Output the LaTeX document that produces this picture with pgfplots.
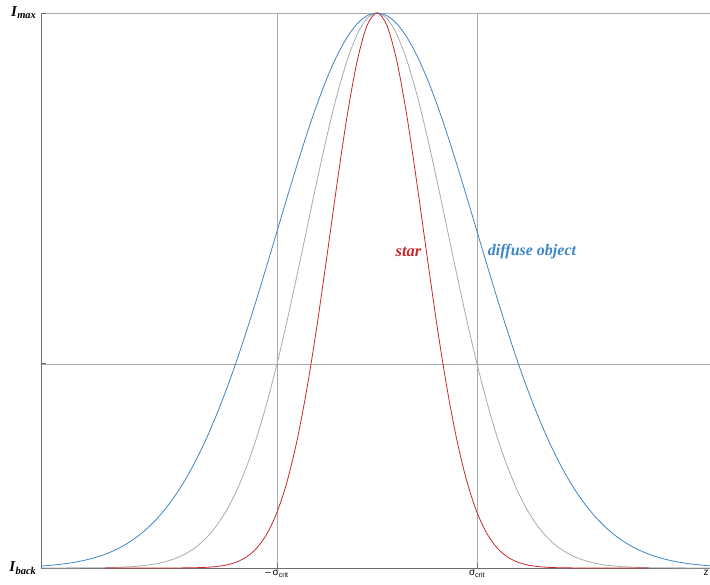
\documentclass[border=0pt]{standalone}
\usepackage{fontspec}
\setmainfont{Liberation Serif}
\newfontfamily\sansf{Liberation Sans}
\usepackage{pgfplots}
\pgfplotsset{compat=1.18}
\definecolor{cblue}{RGB}{61,133,198}
\definecolor{cred}{RGB}{200,40,45}
\definecolor{cgray}{RGB}{170,170,170}
\definecolor{caxis}{RGB}{110,110,110}
\begin{document}
\begin{tikzpicture}
\begin{axis}[
  scale only axis, width=669pt, height=555pt,
  xmin=-3.36, xmax=3.33, ymin=0, ymax=1,
  axis x line=bottom, axis y line=left,
  axis line style={caxis, line width=0.9pt, -},
  xtick={-1,1},
  xticklabels={{\textendash\,σ\textsubscript{crit}}, {σ\textsubscript{crit}}},
  extra x ticks={3.33},
  extra x tick labels={{z}},
  extra x tick style={grid=none, major tick length=0pt, xticklabel style={xshift=-4pt}},
  ytick={0,0.36788,1},
  yticklabels={{\textbf{\textit{I}}\textsubscript{\textbf{\textit{back}}}}, {}, {\textbf{\textit{I}}\textsubscript{\textbf{\textit{max}}}}},
  xmajorgrids, ymajorgrids,
  grid style={cgray, line width=0.6pt},
  tick align=inside,
  major tick length=5pt,
  tick style={caxis, line width=0.8pt},
  xticklabel style={font=\sansf\fontsize{10}{11}\selectfont, yshift=1pt},
  yticklabel style={font=\fontsize{15}{17}\selectfont, xshift=-1pt},
  clip=false,
]
\addplot[cgray, line width=0.8pt, smooth] coordinates {
(-3.36,0) (-2.8,0.00039) (-2.7,0.00068) (-2.6,0.00116) (-2.5,0.00193) (-2.4,0.00315) (-2.3,0.00504) (-2.2,0.00791) (-2.1,0.01216)
(-2.0,0.01832) (-1.9,0.02705) (-1.8,0.03916) (-1.7,0.05558) (-1.6,0.07730) (-1.5,0.10540) (-1.4,0.14086) (-1.3,0.18452) (-1.2,0.23693) (-1.1,0.29820)
(-1.0,0.36788) (-0.9,0.44486) (-0.8,0.52729) (-0.7,0.61263) (-0.6,0.69768) (-0.5,0.77880) (-0.4,0.85214) (-0.3,0.91393) (-0.2,0.96079) (-0.1,0.99005)
(0,1)
(0.1,0.99005) (0.2,0.96079) (0.3,0.91393) (0.4,0.85214) (0.5,0.77880) (0.6,0.69768) (0.7,0.61263) (0.8,0.52729) (0.9,0.44486) (1.0,0.36788)
(1.1,0.29820) (1.2,0.23693) (1.3,0.18452) (1.4,0.14086) (1.5,0.10540) (1.6,0.07730) (1.7,0.05558) (1.8,0.03916) (1.9,0.02705) (2.0,0.01832)
(2.1,0.01216) (2.2,0.00791) (2.3,0.00504) (2.4,0.00315) (2.5,0.00193) (2.6,0.00116) (2.7,0.00068) (2.8,0.00039) (3.33,0)
};
\addplot[cblue, line width=0.8pt, smooth] coordinates {
(-3.36,0.00354) (-3.3,0.00432) (-3.2,0.00598) (-3.1,0.00819) (-3.0,0.01111) (-2.9,0.01492) (-2.8,0.01984) (-2.7,0.02612) (-2.6,0.03405) (-2.5,0.04394)
(-2.4,0.05613) (-2.3,0.07101) (-2.2,0.08892) (-2.1,0.11025) (-2.0,0.13534) (-1.9,0.16447) (-1.8,0.19790) (-1.7,0.23575) (-1.6,0.27804) (-1.5,0.32465)
(-1.4,0.37531) (-1.3,0.42956) (-1.2,0.48675) (-1.1,0.54607) (-1.0,0.60653) (-0.9,0.66698) (-0.8,0.72615) (-0.7,0.78270) (-0.6,0.83527) (-0.5,0.88250)
(-0.4,0.92312) (-0.3,0.95600) (-0.2,0.98020) (-0.1,0.99501) (0,1)
(0.1,0.99501) (0.2,0.98020) (0.3,0.95600) (0.4,0.92312) (0.5,0.88250) (0.6,0.83527) (0.7,0.78270) (0.8,0.72615) (0.9,0.66698) (1.0,0.60653)
(1.1,0.54607) (1.2,0.48675) (1.3,0.42956) (1.4,0.37531) (1.5,0.32465) (1.6,0.27804) (1.7,0.23575) (1.8,0.19790) (1.9,0.16447) (2.0,0.13534)
(2.1,0.11025) (2.2,0.08892) (2.3,0.07101) (2.4,0.05613) (2.5,0.04394) (2.6,0.03405) (2.7,0.02612) (2.8,0.01984) (2.9,0.01492) (3.0,0.01111)
(3.1,0.00819) (3.2,0.00598) (3.33,0.00391)
};
\addplot[cred, line width=0.8pt, smooth] coordinates {
(-2.72,0) (-2.1,0) (-2.0,0.0001) (-1.9,0.00025) (-1.8,0.00058) (-1.7,0.00130) (-1.6,0.00277) (-1.5,0.00566) (-1.4,0.01102) (-1.3,0.02050) (-1.2,0.03644)
(-1.1,0.06185) (-1.0,0.10026) (-0.9,0.15522) (-0.8,0.22947) (-0.7,0.32400) (-0.6,0.43692) (-0.5,0.56270) (-0.4,0.69205) (-0.3,0.81302) (-0.2,0.91211)
(-0.1,0.97726) (0,1)
(0.1,0.97726) (0.2,0.91211) (0.3,0.81302) (0.4,0.69205) (0.5,0.56270) (0.6,0.43692) (0.7,0.32400) (0.8,0.22947) (0.9,0.15522) (1.0,0.10026)
(1.1,0.06185) (1.2,0.03644) (1.3,0.02050) (1.4,0.01102) (1.5,0.00566) (1.6,0.00277) (1.7,0.00130) (1.8,0.00058) (1.9,0.00025) (2.0,0.0001) (2.1,0) (2.72,0)
};
\node[text=cred, font=\fontsize{16.5}{18}\selectfont\bfseries\itshape] at (axis cs:0.315,0.57) {star};
\node[text=cblue, font=\fontsize{16}{18}\selectfont\bfseries\itshape] at (axis cs:1.55,0.57) {diffuse object};
\end{axis}
\pgfresetboundingbox
\path ([shift={(-41pt,-17pt)}]current axis.south west) rectangle ([shift={(0pt,13pt)}]current axis.north east);
\end{tikzpicture}
\end{document}
